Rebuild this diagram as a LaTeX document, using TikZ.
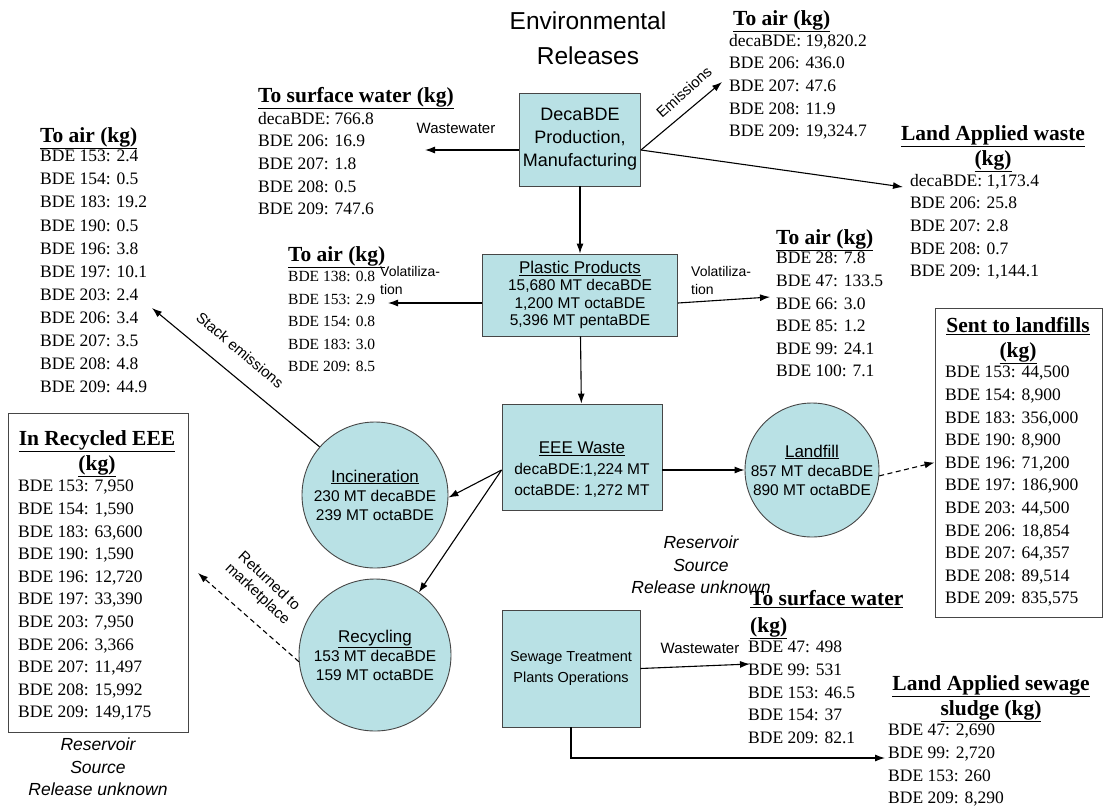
\documentclass[tikz,border=0pt]{standalone}
\usepackage{fontspec}
\setmainfont{Liberation Sans}
\newfontfamily\listfont{Liberation Serif}
\usetikzlibrary{arrows.meta,positioning}
\definecolor{procfill}{RGB}{185,225,229}
\definecolor{procline}{RGB}{70,70,70}

\tikzset{
  proc/.style={draw=procline,fill=procfill,line width=0.9pt,align=center,inner sep=0pt},
  procrect/.style={proc,rectangle},
  proccirc/.style={proc,circle},
  datalist/.style={anchor=north west,align=left,inner sep=0pt,
    font={\listfont\fontsize{17.5}{22.6}\selectfont}},
  listhead/.style={anchor=north west,align=left,inner sep=0pt,
    font={\listfont\bfseries\fontsize{21.5}{25}\selectfont}},
  flow/.style={-{Latex[length=10pt,width=7pt]},line width=1.1pt},
  dashflow/.style={flow,dash pattern=on 5pt off 3.5pt},
  flowlabel/.style={font={\fontsize{15}{18}\selectfont},inner sep=0pt,align=left},
  tiltlabel/.style={font={\fontsize{15}{17}\selectfont},inner sep=0pt,align=center},
  reservoir/.style={font={\itshape\fontsize{17.5}{22.5}\selectfont},align=center,inner sep=0pt},
  databox/.style={draw=procline,line width=0.9pt,rectangle,inner sep=0pt}
}

\begin{document}
\begin{tikzpicture}[x=1pt,y=-1pt]
  \useasboundingbox (0,0) rectangle (1118,809);

  % title
  \node[font={\fontsize{24.5}{35}\selectfont},align=center] (title) at (588,38) {Environmental\\Releases};

  % processes
  \node[procrect,minimum width=121pt,minimum height=93pt,font={\fontsize{18}{23}\selectfont}] (deca) at (580,139.5) {DecaBDE\\Production,\\Manufacturing};
  \node[procrect,minimum width=195pt,minimum height=82pt,font={\fontsize{15.5}{17.5}\selectfont}] (plastic) at (580,295)
    {{\fontsize{17}{20}\selectfont\underline{Plastic Products}}\\15,680 MT decaBDE\\1,200 MT octaBDE\\5,396 MT pentaBDE};
  \node[procrect,minimum width=160pt,minimum height=106pt] (eee) at (582,457) {};
  \node[align=center,inner sep=0pt,font={\fontsize{15.5}{21}\selectfont}] (eeetext) at (582,470)
    {{\fontsize{17}{20}\selectfont\underline{EEE Waste}}\\decaBDE:1,224 MT\\octaBDE: 1,272 MT};
  \node[proccirc,minimum size=146pt,font={\fontsize{15.5}{19}\selectfont}] (incin) at (375,495)
    {{\fontsize{17}{20}\selectfont\underline{Incineration}}\\230 MT decaBDE\\239 MT octaBDE};
  \node[proccirc,minimum size=152pt,font={\fontsize{15.5}{19}\selectfont}] (recyc) at (375,655)
    {{\fontsize{17}{20}\selectfont\underline{Recycling}}\\153 MT decaBDE\\159 MT octaBDE};
  \node[proccirc,minimum size=134pt,font={\fontsize{15.5}{19}\selectfont}] (landfill) at (812,470)
    {{\fontsize{17}{20}\selectfont\underline{Landfill}}\\857 MT decaBDE\\890 MT octaBDE};
  \node[procrect,minimum width=138pt,minimum height=117pt,font={\fontsize{14.5}{21}\selectfont}] (sewage) at (571,668.5)
    {Sewage Treatment\\Plants Operations};

  % boxed inventories
  \node[databox,minimum width=167pt,minimum height=309pt] (lfbox) at (1018.5,462.5) {};
  \node[databox,minimum width=180pt,minimum height=319pt] (recbox) at (98,572.5) {};

  % release lists
  \node[listhead] (airTopHd) at (733,10) {\underline{To air (kg)}};
  \node[datalist] (airTop) at (729,34) {decaBDE: 19,820.2\\BDE 206: 436.0\\BDE 207: 47.6\\BDE 208: 11.9\\BDE 209: 19,324.7};
  \node[listhead] (waterHd) at (258,87) {\underline{To surface water (kg)}};
  \node[datalist] (water) at (258,112) {decaBDE: 766.8\\BDE 206: 16.9\\BDE 207: 1.8\\BDE 208: 0.5\\BDE 209: 747.6};
  \node[listhead,anchor=north,align=center] (landHd) at (993,125) {\underline{Land Applied waste}\\\underline{(kg)}};
  \node[datalist] (land) at (910,174) {decaBDE: 1,173.4\\BDE 206: 25.8\\BDE 207: 2.8\\BDE 208: 0.7\\BDE 209: 1,144.1};
  \node[listhead] (airLeftHd) at (40,127) {\underline{To air (kg)}};
  \node[datalist,font={\listfont\fontsize{17.5}{23.1}\selectfont}] (airLeft) at (40,150)
    {BDE 153: 2.4\\BDE 154: 0.5\\BDE 183: 19.2\\BDE 190: 0.5\\BDE 196: 3.8\\BDE 197: 10.1\\BDE 203: 2.4\\BDE 206: 3.4\\BDE 207: 3.5\\BDE 208: 4.8\\BDE 209: 44.9};
  \node[listhead] (airMidHd) at (288,246) {\underline{To air (kg)}};
  \node[datalist,font={\listfont\fontsize{15.5}{22.6}\selectfont}] (airMid) at (288,271) {BDE 138: 0.8\\BDE 153: 2.9\\BDE 154: 0.8\\BDE 183: 3.0\\BDE 209: 8.5};
  \node[listhead] (airRightHd) at (776,229) {\underline{To air (kg)}};
  \node[datalist] (airRight) at (776,252) {BDE 28: 7.8\\BDE 47: 133.5\\BDE 66: 3.0\\BDE 85: 1.2\\BDE 99: 24.1\\BDE 100: 7.1};
  \node[listhead,anchor=north,align=center] (lfHd) at (1018,317) {\underline{Sent to landfills}\\\underline{(kg)}};
  \node[datalist] (lfList) at (945,366)
    {BDE 153: 44,500\\BDE 154: 8,900\\BDE 183: 356,000\\BDE 190: 8,900\\BDE 196: 71,200\\BDE 197: 186,900\\BDE 203: 44,500\\BDE 206: 18,854\\BDE 207: 64,357\\BDE 208: 89,514\\BDE 209: 835,575};
  \node[listhead,anchor=north,align=center] (recHd) at (97,430) {\underline{In Recycled EEE}\\\underline{(kg)}};
  \node[datalist] (recList) at (18,480)
    {BDE 153: 7,950\\BDE 154: 1,590\\BDE 183: 63,600\\BDE 190: 1,590\\BDE 196: 12,720\\BDE 197: 33,390\\BDE 203: 7,950\\BDE 206: 3,366\\BDE 207: 11,497\\BDE 208: 15,992\\BDE 209: 149,175};
  \node[listhead,font={\listfont\bfseries\fontsize{21.5}{27}\selectfont}] (water2Hd) at (750,590) {\underline{To surface water}\\\underline{(kg)}};
  \node[datalist] (water2) at (748,641) {BDE 47: 498\\BDE 99: 531\\BDE 153: 46.5\\BDE 154: 37\\BDE 209: 82.1};
  \node[listhead,anchor=north,align=center] (sludgeHd) at (991,675) {\underline{Land Applied sewage}\\\underline{sludge (kg)}};
  \node[datalist] (sludge) at (888,724) {BDE 47: 2,690\\BDE 99: 2,720\\BDE 153: 260\\BDE 209: 8,290};

  % reservoir notes
  \node[reservoir] (resEEE) at (701,565) {Reservoir\\Source\\Release unknown};
  \node[reservoir] (resRec) at (98,767) {Reservoir\\Source\\Release unknown};

  % flows
  \coordinate (wwEnd) at (425,150);
  \coordinate (emEnd) at (722,82);
  \coordinate (lawEnd) at (903,187);
  \coordinate (volL) at (388,303);
  \coordinate (volR) at (770,297);
  \coordinate (stackEnd) at (152,308);
  \coordinate (retEnd) at (198,573);
  \coordinate (ww2End) at (750,664);
  \coordinate (sludgeEnd) at (885,758);

  \draw[flow] (deca.west |- wwEnd) -- (wwEnd);
  \node[flowlabel] (wwLbl) at (456,128) {Wastewater};
  \draw[flow] (deca.east |- wwEnd) -- (emEnd);
  \node[tiltlabel,rotate=42] (emLbl) at (684,92) {Emissions};
  \draw[flow] (deca.east |- wwEnd) -- (lawEnd);
  \draw[flow] (deca) -- (plastic);
  \draw[flow] (plastic.west |- volL) -- (volL);
  \node[flowlabel,anchor=north west,font={\fontsize{14}{18}\selectfont}] (volLLbl) at (380,266) {Volatiliza-\\tion};
  \draw[flow] (plastic.east |- volL) -- (volR);
  \node[flowlabel,anchor=north west,font={\fontsize{14}{18}\selectfont}] (volRLbl) at (691,266) {Volatiliza-\\tion};
  \draw[flow] (plastic) -- (eee);
  \draw[flow] (eee.west |- eeetext) -- (incin.-2);
  \draw[flow] (eee.west |- eeetext) -- (recyc.55);
  \draw[flow] (eee.east |- landfill.west) -- (landfill.west);
  \draw[dashflow] (landfill.-5) -- (lfbox.west);
  \draw[flow] (incin.139) -- (stackEnd);
  \node[tiltlabel,rotate=-40] (stackLbl) at (240,350) {Stack emissions};
  \draw[dashflow] (recyc.185) -- (retEnd);
  \node[tiltlabel,rotate=-43] (retLbl) at (263,588) {Returned to\\marketplace};
  \draw[flow] (sewage.east) -- (ww2End);
  \node[flowlabel] (ww2Lbl) at (700,648) {Wastewater};
  \draw[flow] (sewage.south) |- (sludgeEnd);
\end{tikzpicture}
\end{document}
